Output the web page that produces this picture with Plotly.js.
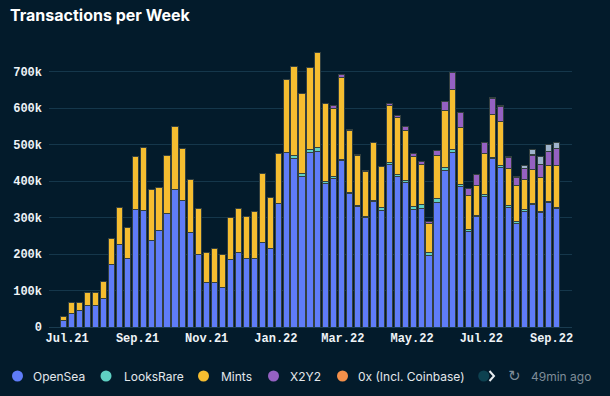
<!DOCTYPE html>
<html>
<head>
<meta charset="utf-8">
<script src="https://cdn.plot.ly/plotly-3.0.1.min.js"></script>
<style>
  html, body { margin: 0; padding: 0; background: #031b2b; }
  #chart { width: 610px; height: 396px; }
</style>
</head>
<body>
<div id="chart"></div>
<script>
// Week start dates (Mondays)
const weeks = [
  '2021-06-28','2021-07-05','2021-07-12','2021-07-19','2021-07-26','2021-08-02','2021-08-09','2021-08-16','2021-08-23','2021-08-30',
  '2021-09-06','2021-09-13','2021-09-20','2021-09-27','2021-10-04','2021-10-11','2021-10-18','2021-10-25','2021-11-01','2021-11-08',
  '2021-11-15','2021-11-22','2021-11-29','2021-12-06','2021-12-13','2021-12-20','2021-12-27','2022-01-03','2022-01-10','2022-01-17',
  '2022-01-24','2022-01-31','2022-02-07','2022-02-14','2022-02-21','2022-02-28','2022-03-07','2022-03-14','2022-03-21','2022-03-28',
  '2022-04-04','2022-04-11','2022-04-18','2022-04-25','2022-05-02','2022-05-09','2022-05-16','2022-05-23','2022-05-30','2022-06-06',
  '2022-06-13','2022-06-20','2022-06-27','2022-07-04','2022-07-11','2022-07-18','2022-07-25','2022-08-01','2022-08-08','2022-08-15',
  '2022-08-22','2022-08-29','2022-09-05'
];

// Transactions (thousands)
const openSea = [18,37,45,60,59,78,171,225,189,323, 320,237,264,310,378,347,259,200,121,121,
  108,185,203,189,188,231,215,340,478,462, 413,478,482,393,406,456,366,331,301,343,
  320,446,414,395,322,326,195,341,428,478, 386,263,304,359,461,438,329,285,317,335, 315,341,324];
const looksRare = [0,0,0,0,0,0,0,0,0,0, 0,0,0,0,0,0,0,0,0,0, 0,0,0,0,0,0,0,0,1,9,
  7,8,10,6,6,4,3,3,3,3, 7,4,4,8,9,10,8,12,9,8, 6,5,3,4,5,4,4,4,4,3, 2,3,3];
const mints = [11,29,22,36,36,48,72,104,85,144, 172,140,118,161,171,143,146,124,84,95,
  91,116,123,113,130,189,139,137,201,243, 220,225,260,215,188,225,170,137,123,159,
  112,158,156,135,137,109,81,117,156,165, 156,93,82,113,116,123,103,99,83,93, 92,100,117];
const x2y2 = [0,0,0,0,0,0,0,0,0,0, 0,0,0,0,0,0,0,0,0,0, 0,0,0,0,0,0,0,0,0,0,
  0,0,0,0,8,7,3,3,1,1, 1,5,7,11,8,9,6,13,26,46, 39,18,28,30,45,40,29,23,31,40, 37,37,45];
const zeroX = [0,0,0,0,0,0,0,0,0,0, 0,0,0,0,0,0,0,0,0,0, 0,0,0,0,0,0,0,0,0,0,
  0,0,0,0,0,0,0,0,0,0, 0,0,0,0,0,0,0,0,0,0, 0,0,0,0,2,2,2,1,1,1, 1,1,1];
const sudoswap = [0,0,0,0,0,0,0,0,0,0, 0,0,0,0,0,0,0,0,0,0, 0,0,0,0,0,0,0,0,0,0,
  0,0,0,0,0,0,0,0,0,0, 0,0,0,0,0,0,0,0,0,0, 0,0,0,0,0,0,0,0,8,16, 22,19,16];

const seriesNames = ['OpenSea','LooksRare','Mints','X2Y2','0x (Incl. Coinbase)','Sudoswap'];
const seriesColors = ['#5f7cf8','#5fd0c3','#f5bd30','#9561c2','#f4904a','#9fb3cc'];
const seriesData = [openSea, looksRare, mints, x2y2, zeroX, sudoswap];

const traces = seriesData.map((vals, i) => ({
  type: 'bar',
  name: seriesNames[i],
  x: weeks,
  y: vals.map(v => v * 1000),
  marker: { color: seriesColors[i], line: { color: '#34403f', width: 1 } },
  showlegend: false,
  hoverinfo: 'skip'
}));

const W = 610, H = 396;
const M = { l: 49, r: 38, t: 47, b: 69 };
const PW = W - M.l - M.r, PH = H - M.t - M.b;
const px = x => (x - M.l) / PW;
const py = y => (H - M.b - y) / PH;

const legendY = 376;
const legendCircles = [17.5, 106, 203.5, 273.5, 342.5];
const legendTextX = [31, 121.5, 218.5, 288, 356];
const r = 5.5;

const shapes = [];
const annotations = [];
for (let i = 0; i < 5; i++) {
  shapes.push({
    type: 'circle', xref: 'paper', yref: 'paper',
    x0: px(legendCircles[i] - r), x1: px(legendCircles[i] + r),
    y0: py(legendY + r), y1: py(legendY - r),
    fillcolor: seriesColors[i], line: { width: 0 }
  });
  annotations.push({
    xref: 'paper', yref: 'paper', x: px(legendTextX[i]), y: py(legendY),
    xanchor: 'left', yanchor: 'middle', showarrow: false,
    text: seriesNames[i],
    font: { family: 'Inter, "Noto Sans", sans-serif', size: 12, color: '#e3e8ec' }
  });
}
// faded scrolled legend item + arrow + refresh
shapes.push({
  type: 'circle', xref: 'paper', yref: 'paper',
  x0: px(483.7 - r), x1: px(483.7 + r), y0: py(legendY + r), y1: py(legendY - r),
  fillcolor: '#0d4150', line: { width: 0 }
});
shapes.push({
  type: 'path', xref: 'paper', yref: 'paper',
  path: 'M ' + px(489.5) + ' ' + py(legendY - 5) + ' L ' + px(494) + ' ' + py(legendY) + ' L ' + px(489.5) + ' ' + py(legendY + 5),
  line: { color: '#e8edf0', width: 2 }
});
annotations.push({
  xref: 'paper', yref: 'paper', x: px(514), y: py(legendY),
  xanchor: 'center', yanchor: 'middle', showarrow: false,
  text: '↻', font: { family: 'DejaVu Sans, sans-serif', size: 15, color: '#7f8d98' }
});
annotations.push({
  xref: 'paper', yref: 'paper', x: px(528.5), y: py(legendY),
  xanchor: 'left', yanchor: 'middle', showarrow: false,
  text: '49min ago', font: { family: 'Inter, "Noto Sans", sans-serif', size: 12, color: '#7f8d98' }
});

const monoFont = { family: '"Liberation Mono", "DejaVu Sans Mono", monospace', size: 12, color: '#eef3f7', weight: 'bold' };

const layout = {
  width: W, height: H,
  margin: M,
  paper_bgcolor: '#031b2b',
  plot_bgcolor: '#031b2b',
  barmode: 'stack',
  bargap: 0.22,
  title: {
    text: '<b>Transactions per Week</b>',
    xref: 'container', yref: 'container',
    x: 10 / W, xanchor: 'left',
    y: 1 - 15 / H, yanchor: 'middle',
    font: { family: 'Inter, "Noto Sans", sans-serif', size: 16, color: '#ffffff' }
  },
  xaxis: {
    type: 'date',
    range: ['2021-06-15', '2022-09-19'],
    tick0: '2021-07-01',
    dtick: 'M2',
    tickformat: '%b.%y',
    showgrid: false,
    zeroline: false,
    showline: false,
    ticks: '',
    tickfont: monoFont,
    ticklabelstandoff: 2,
    fixedrange: true
  },
  yaxis: {
    range: [0, 768000],
    dtick: 100000,
    tickformat: '~s',
    gridcolor: '#15374b',
    gridwidth: 1,
    zeroline: true,
    zerolinecolor: '#1a3c50',
    zerolinewidth: 1,
    showline: false,
    ticks: '',
    tickfont: monoFont,
    ticklabelstandoff: 6,
    fixedrange: true
  },
  shapes: shapes,
  annotations: annotations,
  showlegend: false
};

Plotly.newPlot('chart', traces, layout, { displayModeBar: false, staticPlot: true });
</script>
</body>
</html>
